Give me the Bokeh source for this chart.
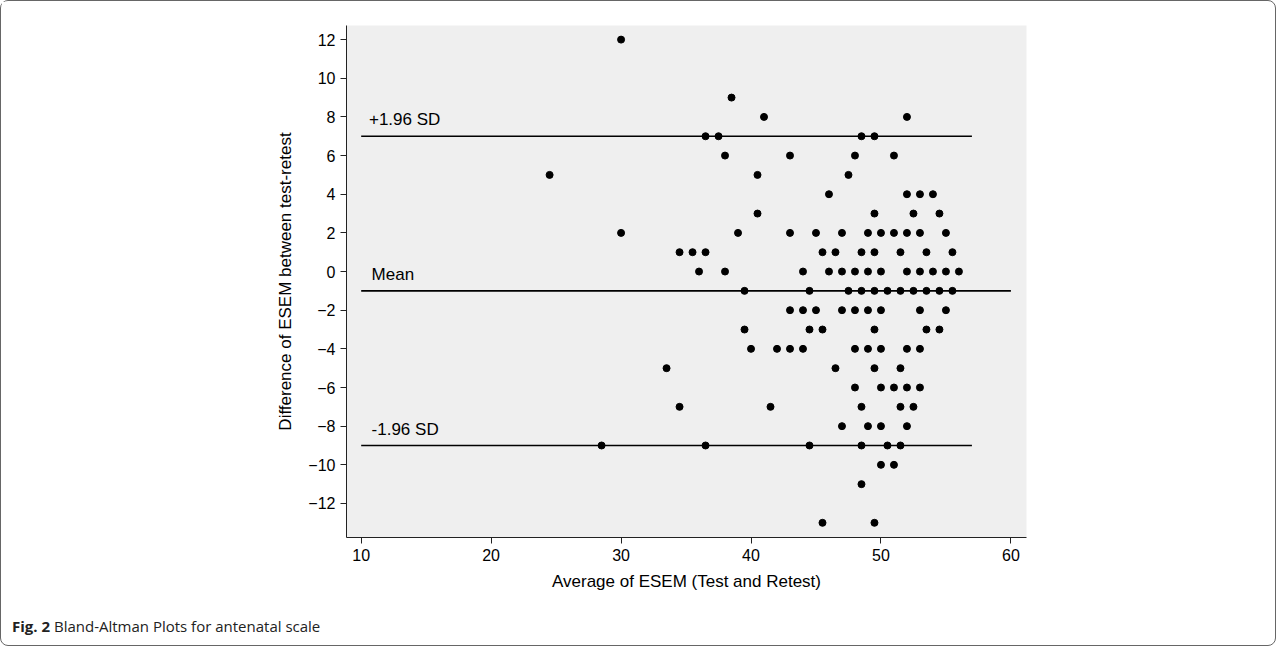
from bokeh.core.properties import value
from bokeh.embed import file_html
from bokeh.layouts import column
from bokeh.models import Div, FixedTicker
from bokeh.plotting import figure
from bokeh.resources import INLINE

# (average, difference) pairs grouped by difference row
rows = {
    12: [30],
    9: [38.5],
    8: [41, 52],
    7: [36.5, 37.5, 48.5, 49.5],
    6: [38, 43, 48, 51],
    5: [24.5, 40.5, 47.5],
    4: [46, 52, 53, 54],
    3: [40.5, 49.5, 52.5, 54.5],
    2: [30, 39, 43, 45, 47, 49, 50, 51, 52, 53, 55],
    1: [34.5, 35.5, 36.5, 45.5, 46.5, 48.5, 49.5, 51.5, 53.5, 55.5],
    0: [36, 38, 44, 46, 47, 48, 49, 50, 52, 53, 54, 55, 56],
    -1: [39.5, 44.5, 47.5, 48.5, 49.5, 50.5, 51.5, 52.5, 53.5, 54.5, 55.5],
    -2: [43, 44, 45, 47, 48, 49, 50, 53, 55],
    -3: [39.5, 44.5, 45.5, 49.5, 53.5, 54.5],
    -4: [40, 42, 43, 44, 48, 49, 50, 52, 53],
    -5: [33.5, 46.5, 49.5, 51.5],
    -6: [48, 50, 51, 52, 53],
    -7: [34.5, 41.5, 48.5, 51.5, 52.5],
    -8: [47, 49, 50, 52],
    -9: [28.5, 36.5, 44.5, 48.5, 50.5, 51.5],
    -10: [50, 51],
    -11: [48.5],
    -13: [45.5, 49.5],
}
avg = [x for d, xs in rows.items() for x in xs]
diff = [d for d, xs in rows.items() for _ in xs]

mean_diff = -1
upper_loa = 7
lower_loa = -9
line_x0 = [10, 10, 10]
line_x1 = [57, 60, 57]
line_y = [upper_loa, mean_diff, lower_loa]
line_labels = ["+1.96 SD", "Mean", "-1.96 SD"]
label_x = [10.6, 10.8, 10.8]
caption_bold = "Fig. 2"
caption_text = "Bland-Altman Plots for antenatal scale"

FONT = "Liberation Sans"

p = figure(
    width=1264, height=600,
    x_range=(8.87, 61.2), y_range=(-13.76, 12.73),
    output_backend="svg", toolbar_location=None,
    min_border_left=345, min_border_right=239,
    min_border_top=24, min_border_bottom=64,
    x_axis_label="Average of ESEM (Test and Retest)",
    y_axis_label="Difference of ESEM between test-retest",
)
p.background_fill_color = "#efefef"
p.border_fill_color = "white"
p.outline_line_color = None
p.grid.visible = False

p.xaxis.ticker = FixedTicker(ticks=[10, 20, 30, 40, 50, 60])
p.yaxis.ticker = FixedTicker(ticks=list(range(-12, 13, 2)))
for ax in (p.xaxis, p.yaxis):
    ax.minor_tick_line_color = None
    ax.major_tick_in = 0
    ax.major_tick_out = 6
    ax.axis_line_color = "#222"
    ax.major_tick_line_color = "#222"
    ax.major_label_text_font = FONT
    ax.major_label_text_font_size = "16px"
    ax.major_label_text_color = "black"
    ax.axis_label_text_font = FONT
    ax.axis_label_text_font_size = "17px"
    ax.axis_label_text_font_style = "normal"
    ax.axis_label_text_color = "black"
p.yaxis.major_label_orientation = "horizontal"
p.xaxis.axis_label_standoff = 8
p.yaxis.axis_label_standoff = 10

p.segment(line_x0, line_y, line_x1, line_y, line_color="black", line_width=1.6)
p.text(label_x, [y + 0.35 for y in line_y], text=line_labels,
       text_font=value(FONT), text_font_size="17px", text_baseline="bottom",
       text_color="black")

p.scatter(avg, diff, size=7, color="black")

cap = Div(
    text=f"<b>{caption_bold}</b> {caption_text}",
    width=1264, height=34,
    styles={"font-family": "Open Sans", "font-size": "15px",
            "padding-left": "6px", "padding-top": "10px", "color": "#222"},
)
layout = column(p, cap, spacing=0,
                styles={"border": "1px solid #666", "border-radius": "8px",
                        "background": "white"})

open("out.html", "w").write(file_html(layout, INLINE))
